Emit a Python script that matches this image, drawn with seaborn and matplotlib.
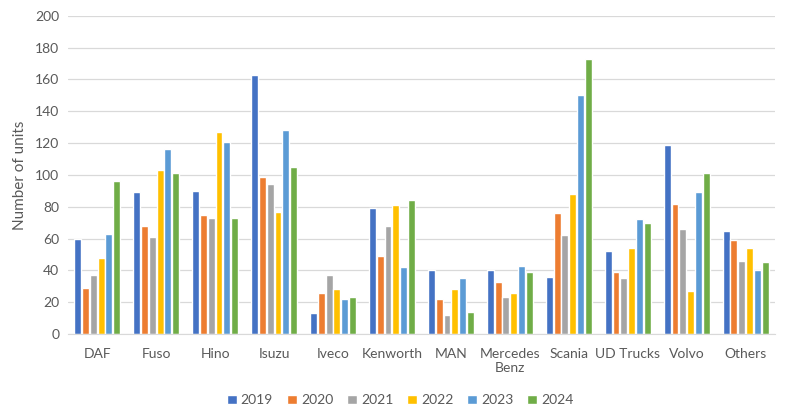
import pandas as pd
import matplotlib.pyplot as plt
import seaborn as sns

# dados
brands = ['DAF', 'Fuso', 'Hino', 'Isuzu', 'Iveco', 'Kenworth', 'MAN',
          'Mercedes\nBenz', 'Scania', 'UD Trucks', 'Volvo', 'Others']
years = ['2019', '2020', '2021', '2022', '2023', '2024']
v2019 = [60, 89, 90, 163, 13, 79, 40, 40, 36, 52, 119, 65]
v2020 = [29, 68, 75, 99, 26, 49, 22, 33, 76, 39, 82, 59]
v2021 = [37, 61, 73, 94, 37, 68, 12, 23, 62, 35, 66, 46]
v2022 = [48, 103, 127, 77, 28, 81, 28, 26, 88, 54, 27, 54]
v2023 = [63, 116, 121, 128, 22, 42, 35, 43, 150, 72, 89, 40]
v2024 = [96, 101, 73, 105, 23, 84, 14, 39, 173, 70, 101, 45]
colors = ['#4472C4', '#ED7D31', '#A5A5A5', '#FFC000', '#5B9BD5', '#70AD47']

rows = []
for year, vals in zip(years, [v2019, v2020, v2021, v2022, v2023, v2024]):
    for b, v in zip(brands, vals):
        rows.append({'Brand': b, 'Year': year, 'Units': v})
df = pd.DataFrame(rows)

sns.set_style('white')
plt.rcParams['font.family'] = ['Lato', 'DejaVu Sans']
txt = '#595959'

fig = plt.figure(figsize=(7.87, 4.17), dpi=100)
ax = fig.add_axes([0.086, 0.199, 0.899, 0.763])
sns.barplot(data=df, x='Brand', y='Units', hue='Year', palette=colors,
            width=0.8, gap=0.12, saturation=1, ax=ax, legend=True)

ax.set_ylim(0, 200)
ax.set_yticks(range(0, 201, 20))
ax.set_xlim(-0.5, len(brands) - 0.5)
ax.yaxis.grid(True, color='#D9D9D9', linewidth=0.9)
ax.set_axisbelow(True)
for s in ['top', 'right', 'left']:
    ax.spines[s].set_visible(False)
ax.spines['bottom'].set_color('#D9D9D9')
ax.tick_params(axis='y', length=0, colors=txt, labelsize=10, pad=6)
ax.tick_params(axis='x', length=0, colors=txt, labelsize=10, pad=10)
ax.set_xlabel('')
ax.set_ylabel('Number of units', color=txt, fontsize=11, labelpad=6)

ax.legend(loc='upper center', bbox_to_anchor=(0.47, -0.15), ncol=6,
          frameon=False, fontsize=10, handlelength=0.7, handleheight=0.7,
          handletextpad=0.3, columnspacing=1.0, labelcolor=txt)

plt.savefig('out.png', dpi=100)
